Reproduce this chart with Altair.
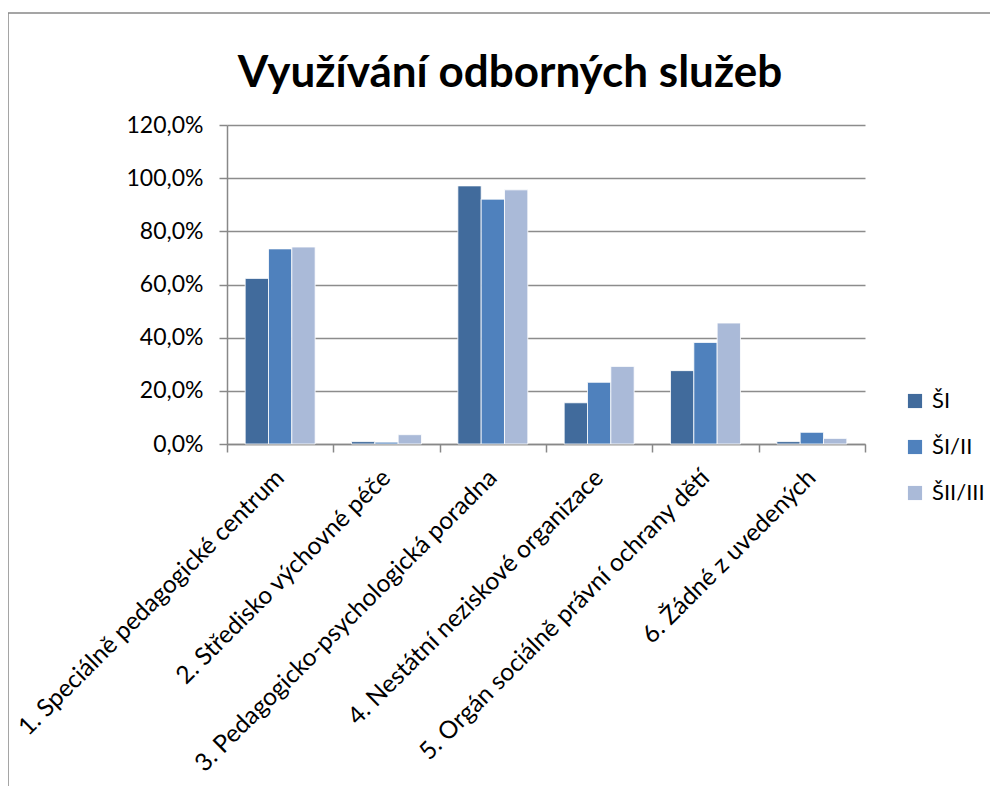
import altair as alt
import pandas as pd

title_text = "Využívání odborných služeb"
categories = [
    "1. Speciálně pedagogické centrum",
    "2. Středisko výchovné péče",
    "3. Pedagogicko-psychologická poradna",
    "4. Nestátní neziskové organizace",
    "5. Orgán sociálně právní ochrany dětí",
    "6. Žádné z uvedených",
]
series = ["ŠI", "ŠI/II", "ŠII/III"]
values_SI = [62.3, 0.9, 97.1, 15.5, 27.6, 0.9]
values_SI_II = [73.4, 0.7, 92.1, 23.2, 38.2, 4.4]
values_SII_III = [74.1, 3.5, 95.6, 29.2, 45.5, 2.1]
colors = ["#416B9C", "#4F81BD", "#AABAD8"]
y_ticks = [0, 20, 40, 60, 80, 100, 120]

rows = []
for s, vals in zip(series, [values_SI, values_SI_II, values_SII_III]):
    for c, v in zip(categories, vals):
        rows.append({"kategorie": c, "skupina": s, "hodnota": v})
df = pd.DataFrame(rows)

FONT = "Lato"
W, H = 638, 319
PL, PT = 219, 117

bars = alt.Chart(df).mark_bar(stroke="white", strokeWidth=0.8).encode(
    x=alt.X("kategorie:N", sort=categories,
            scale=alt.Scale(paddingInner=0, paddingOuter=0),
            axis=alt.Axis(title=None, labelAngle=-45, labelAlign="right",
                          labelBaseline="middle", labelFontSize=24.5, labelFont=FONT,
                          labelColor="#000000", labelPadding=22, tickBand="extent",
                          tickSize=8, tickColor="#888888", tickWidth=1.5,
                          domainColor="#888888", domainWidth=1.5, grid=False,
                          labelLimit=600)),
    xOffset=alt.XOffset("skupina:N", sort=series,
                        scale=alt.Scale(paddingInner=0, paddingOuter=0.78)),
    y=alt.Y("hodnota:Q", scale=alt.Scale(domain=[0, 120], nice=False),
            axis=alt.Axis(title=None, values=y_ticks,
                          labelExpr="replace(format(datum.value, '.1f'), '.', ',') + '%'",
                          labelFontSize=23, labelFont=FONT, labelColor="#000000",
                          labelPadding=16, tickSize=8, tickColor="#888888", tickWidth=1.5,
                          domainColor="#888888", domainWidth=1.5,
                          gridColor="#8C8C8C", gridWidth=1.5)),
    color=alt.Color("skupina:N", sort=series,
                    scale=alt.Scale(domain=series, range=colors),
                    legend=alt.Legend(title=None, orient="none", legendX=677, legendY=265,
                                      symbolType="square", symbolSize=200,
                                      symbolStrokeWidth=0, labelFontSize=22,
                                      labelFont=FONT, labelColor="#000000",
                                      labelOffset=6, rowPadding=24)),
)

title = alt.Chart(pd.DataFrame({"t": [title_text]})).mark_text(
    font=FONT, fontSize=44, fontWeight="bold", align="center",
    baseline="alphabetic", color="#000000"
).encode(text="t:N", x=alt.value(283), y=alt.value(-38))

frame = alt.Chart(pd.DataFrame({"t": [title_text]})).mark_rect(
    fill=None, stroke="#888888", strokeWidth=1.5
).encode(x=alt.value(-219), x2=alt.value(800), y=alt.value(-112), y2=alt.value(800))

chart = alt.layer(frame, bars, title).properties(
    width=W, height=H,
    autosize=alt.AutoSizeParams(type="none"),
    padding={"left": PL, "top": PT, "right": 982 - PL - W, "bottom": 778 - PT - H},
).configure_view(stroke=None)

chart.save("out.html", embed_options={"renderer": "svg", "actions": False})
